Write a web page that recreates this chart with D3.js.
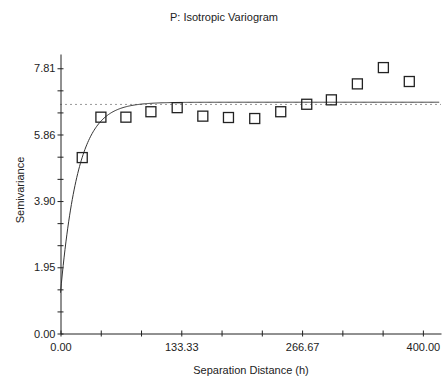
<!DOCTYPE html>
<html>
<head>
<meta charset="utf-8">
<script src="https://cdn.jsdelivr.net/npm/d3@7"></script>
<style>
  body { margin: 0; background: #fff; }
  svg { display: block; font-family: "Liberation Sans", Arial, sans-serif; }
  .axis path, .axis line { stroke: #222; }
  .axis text { fill: #222; font-size: 11px; }
</style>
</head>
<body>
<svg width="444" height="376"></svg>
<script>
// lag distances and semivariance of the sample variogram
var lagDist = [24.0, 44.6, 72.2, 99.8, 128.8, 157.1, 185.4, 214.4, 243.1, 271.8, 299.0, 327.7, 356.4, 385.0];
var semivar = [5.18, 6.37, 6.37, 6.53, 6.65, 6.40, 6.36, 6.33, 6.53, 6.75, 6.88, 7.35, 7.83, 7.42];

// labelled ticks
var xLabels = [0, 133.33, 266.67, 400];
var yLabels = [0, 1.95, 3.90, 5.86, 7.81];

// exponential model: nugget, partial sill, range
var nugget = 1.2, partialSill = 5.61, range = 58;
var sampleVariance = 6.745;

var svg = d3.select("svg");
var x = d3.scaleLinear().domain([0, 420]).range([60.5, 441]);
var y = d3.scaleLinear().domain([0, 8.23]).range([333.5, 54]);

// three sub-intervals between labelled ticks
function withMinor(labels) {
  var out = [];
  labels.forEach(function(v, i) {
    out.push(v);
    if (i < labels.length - 1) {
      var step = (labels[i+1] - v) / 3;
      out.push(v + step, v + 2 * step);
    }
  });
  return out;
}

svg.append("text")
  .attr("x", 224).attr("y", 21)
  .attr("text-anchor", "middle")
  .style("font-size", "11px").style("fill", "#222")
  .text("P: Isotropic Variogram");

var xAxis = svg.append("g")
  .attr("class", "axis")
  .attr("transform", "translate(0," + y(0) + ")")
  .call(d3.axisBottom(x).tickValues(withMinor(xLabels)).tickSize(4).tickSizeOuter(0)
    .tickFormat(function(d) {
      return xLabels.some(function(v) { return Math.abs(v - d) < 0.01; }) ? d.toFixed(2) : "";
    }));
xAxis.selectAll(".tick line").attr("y1", -3).attr("y2", 3);
xAxis.selectAll(".tick text").attr("y", 10);

var yAxis = svg.append("g")
  .attr("class", "axis")
  .attr("transform", "translate(" + x(0) + ",0)")
  .call(d3.axisLeft(y).tickValues(withMinor(yLabels)).tickSize(4).tickSizeOuter(0)
    .tickFormat(function(d) {
      return yLabels.some(function(v) { return Math.abs(v - d) < 0.01; }) ? d.toFixed(2) : "";
    }));
yAxis.selectAll(".tick line").attr("x1", 3).attr("x2", -3);
yAxis.selectAll(".tick text").attr("x", -5);

svg.append("text")
  .attr("x", 251).attr("y", 374)
  .attr("text-anchor", "middle")
  .style("font-size", "11px").style("fill", "#222")
  .text("Separation Distance (h)");

svg.append("text")
  .attr("transform", "translate(24,190) rotate(-90)")
  .attr("text-anchor", "middle")
  .style("font-size", "11px").style("fill", "#222")
  .text("Semivariance");

// sample variance (dotted)
svg.append("line")
  .attr("x1", x(0)).attr("x2", x(420))
  .attr("y1", y(sampleVariance)).attr("y2", y(sampleVariance))
  .attr("stroke", "#333").attr("stroke-width", 1)
  .attr("stroke-dasharray", "1,4");

// model curve
var hs = d3.range(0, 418.5, 1);
var model = d3.line()
  .x(function(h) { return x(h); })
  .y(function(h) { return y(nugget + partialSill * (1 - Math.exp(-3 * h / range))); });
svg.append("path")
  .datum(hs)
  .attr("d", model)
  .attr("fill", "none")
  .attr("stroke", "#333")
  .attr("stroke-width", 1);

// sample points
svg.selectAll(".pt")
  .data(lagDist)
  .enter().append("rect")
  .attr("class", "pt")
  .attr("x", function(d) { return x(d) - 5; })
  .attr("y", function(d, i) { return y(semivar[i]) - 5; })
  .attr("width", 10).attr("height", 10)
  .attr("fill", "none")
  .attr("stroke", "#222")
  .attr("stroke-width", 1.3);
</script>
</body>
</html>
